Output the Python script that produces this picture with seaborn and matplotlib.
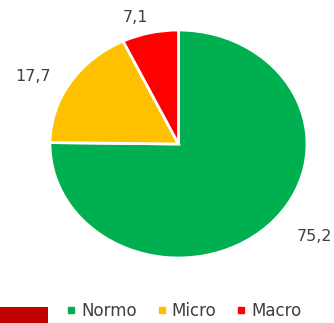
import matplotlib
matplotlib.use("Agg")
import matplotlib.pyplot as plt
import seaborn as sns
from matplotlib.lines import Line2D
from matplotlib.patches import Rectangle
import numpy as np

sns.set_theme(style="white")
plt.rcParams['font.family'] = ['DejaVu Sans']

categories = ["Normo", "Micro", "Macro"]
values = [75.2, 17.7, 7.1]
value_labels = ["75,2", "17,7", "7,1"]
colors = ["#00B050", "#FFC000", "#FF0000"]

fig = plt.figure(figsize=(3.34, 3.23), dpi=100)
ax = fig.add_axes([50 / 334, 65 / 323, 257 / 334, 228 / 323])

wedges, _ = ax.pie(values, colors=colors, startangle=90, counterclock=False,
                   wedgeprops=dict(edgecolor="white", linewidth=2))
ax.set_aspect("auto")
ax.set_xlim(-1, 1)
ax.set_ylim(-1, 1)

# value labels around the pie (radial distance and small angular nudge per slice)
label_r = [1.33, 1.28, 1.16]
label_da = [8, 5, 4]
for w, txt, r, da in zip(wedges, value_labels, label_r, label_da):
    mid = np.deg2rad((w.theta1 + w.theta2) / 2 + da)
    ax.text(r * np.cos(mid), r * np.sin(mid), txt, ha="center", va="center",
            fontsize=11.5, color="#404040", clip_on=False)

handles = [Line2D([0], [0], marker="s", linestyle="none", markersize=5,
                  markerfacecolor=c, markeredgecolor=c) for c in colors]
fig.legend(handles, categories, loc="center", bbox_to_anchor=(0.55, 12 / 323),
           ncol=3, frameon=False, fontsize=12, handlelength=0.6, handletextpad=0.3,
           columnspacing=1.2, labelcolor="#404040")

fig.add_artist(Rectangle((0, 0), 48 / 334, 16 / 323, transform=fig.transFigure,
                         facecolor="#C00000", edgecolor="none"))

fig.savefig("out.png", dpi=100)
